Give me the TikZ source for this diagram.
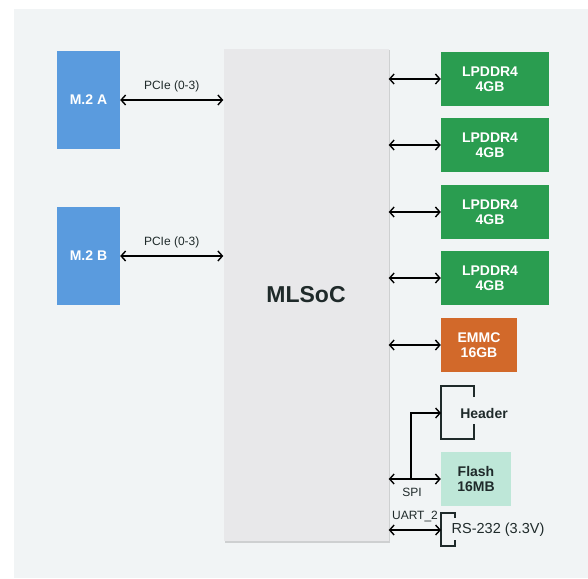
\documentclass[tikz,border=0pt]{standalone}
\usepackage{fontspec}
\setmainfont{Liberation Sans}
\usetikzlibrary{arrows.meta,shadows}
\definecolor{bgc}{HTML}{F1F4F5}
\definecolor{socc}{HTML}{E8E8EA}
\definecolor{bluec}{HTML}{5A9BDE}
\definecolor{greenc}{HTML}{2A9D50}
\definecolor{orangec}{HTML}{D2692A}
\definecolor{mintc}{HTML}{BEE7D8}
\definecolor{darkc}{HTML}{1F2A2A}
\newcommand{\padr}{\rule{10pt}{0pt}}
\tikzset{
  box/.style={rectangle, inner sep=0pt, draw=none, align=center, text=white,
    font=\fontsize{14}{15}\selectfont\bfseries},
  biarrow/.style={{Straight Barb[length=4.5pt,width=10pt]}-{Straight Barb[length=4.5pt,width=10pt]}, line width=1.4pt, black},
  onearrow/.style={-{Straight Barb[length=4.5pt,width=10pt]}, line width=1.4pt, black},
  bracket/.style={line width=1.2pt, draw=darkc},
  lbl/.style={font=\fontsize{12}{13}\selectfont, text=darkc, inner sep=0pt},
}
\begin{document}
\begin{tikzpicture}[x=1pt,y=-1pt]
\useasboundingbox (0,0) rectangle (588,578);
\fill[bgc] (14,9) rectangle (588,578);

\node[rectangle, fill=socc, minimum width=165pt, minimum height=492pt, inner sep=0pt,
  drop shadow={opacity=0.3, shadow xshift=1.5pt, shadow yshift=-1.5pt},
  font=\fontsize{23}{25}\selectfont\bfseries, text=darkc] (soc) at (306,295) {MLSoC};

\node[box, fill=bluec, minimum width=63pt, minimum height=98pt] (m2a) at (88.5,100) {M.2 A};
\node[box, fill=bluec, minimum width=63pt, minimum height=98pt] (m2b) at (88.5,256) {M.2 B};

\node[box, fill=greenc, minimum width=108pt, minimum height=54pt] (ram1) at (495,79) {LPDDR4\padr\\4GB\padr};
\node[box, fill=greenc, minimum width=108pt, minimum height=54pt] (ram2) at (495,145) {LPDDR4\padr\\4GB\padr};
\node[box, fill=greenc, minimum width=108pt, minimum height=54pt] (ram3) at (495,212) {LPDDR4\padr\\4GB\padr};
\node[box, fill=greenc, minimum width=108pt, minimum height=54pt] (ram4) at (495,278) {LPDDR4\padr\\4GB\padr};
\node[box, fill=orangec, minimum width=76pt, minimum height=54pt] (emmc) at (479,345) {EMMC\\16GB};
\node[box, fill=mintc, text=darkc, minimum width=70pt, minimum height=54pt] (flash) at (476,479) {Flash\\16MB};

% Header bracket
\draw[bracket] (474,397) -- (474,386) -- (441,386) -- (441,439) -- (474,439) -- (474,424);
\node[font=\fontsize{14}{15}\selectfont\bfseries, text=darkc, inner sep=0pt] (header) at (484,413) {Header};
\coordinate (hdr) at (441,413);

% RS-232 bracket
\draw[bracket] (455,518) -- (455,513) -- (441,513) -- (441,546) -- (455,546) -- (455,540);
\node[font=\fontsize{14.5}{15}\selectfont, text=darkc, inner sep=0pt, anchor=west] (rs) at (451.5,530) {RS-232 (3.3V)};
\coordinate (rsw) at (441,530);

% connectors
\draw[biarrow] (m2a.east) -- (soc.west |- m2a) node[lbl, midway, above=7pt] {PCIe (0-3)};
\draw[biarrow] (m2b.east) -- (soc.west |- m2b) node[lbl, midway, above=7pt] {PCIe (0-3)};

\draw[biarrow] (soc.east |- ram1) -- (ram1.west);
\draw[biarrow] (soc.east |- ram2) -- (ram2.west);
\draw[biarrow] (soc.east |- ram3) -- (ram3.west);
\draw[biarrow] (soc.east |- ram4) -- (ram4.west);
\draw[biarrow] (soc.east |- emmc) -- (emmc.west);

\draw[biarrow] (soc.east |- flash) -- (flash.west);
\coordinate (spi) at (411,479);
\draw[onearrow] (spi) |- (hdr);
\node[lbl] (spil) at (412,492) {SPI};

\draw[biarrow] (soc.east |- rsw) -- (rsw);
\node[lbl] (uartl) at (415,516) {UART\_2};
\end{tikzpicture}
\end{document}
